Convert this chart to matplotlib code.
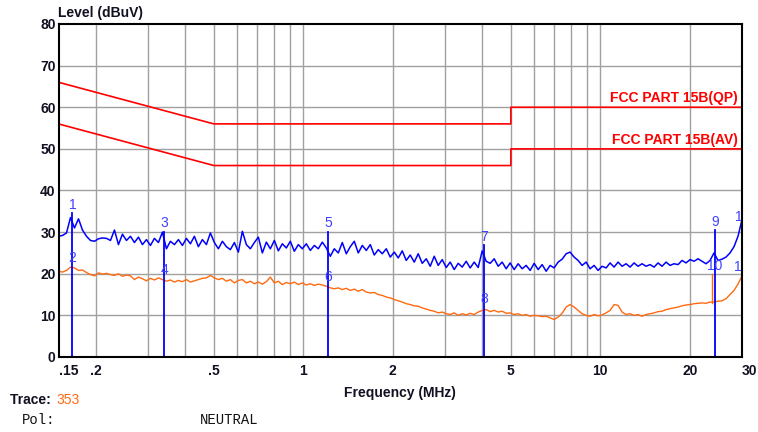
import numpy as np
import matplotlib
matplotlib.use("Agg")
import matplotlib.pyplot as plt
from matplotlib.ticker import FixedLocator, NullLocator, NullFormatter
import matplotlib.transforms as mtransforms

# ---------------- data ----------------
blue_trace = [
    29.0, 29.2, 29.8, 33.5, 31.0, 33.2, 30.5, 29.0, 28.0, 27.8, 28.4, 28.6, 28.5, 28.0,
    30.5, 27.0, 29.5, 28.0, 29.0, 27.5, 28.8, 27.0, 28.2, 26.8, 28.5, 27.5, 30.0, 26.0,
    27.8, 27.0, 28.2, 26.8, 28.5, 27.2, 29.0,
    26.5, 28.2, 27.0, 29.8, 27.5, 26.0, 27.8, 26.5, 25.8, 27.5, 25.2, 30.2, 27.0, 26.0,
    27.5, 28.8, 25.0, 27.6, 26.0, 28.0, 25.5, 27.2, 26.2, 27.8, 25.4, 27.0, 26.0, 27.2,
    25.6, 26.8, 26.0, 27.6, 26.2, 24.2, 26.0,
    25.0, 27.5, 24.8, 26.5, 27.8, 25.0, 26.8, 25.6, 27.0, 24.5, 25.8, 24.8, 26.0, 24.0,
    25.2, 23.8, 25.5, 23.2, 24.5, 22.8, 24.8, 22.5, 23.6, 21.8, 24.2, 22.0, 23.4, 21.5,
    22.8, 21.0, 22.5, 21.6, 23.0, 21.4,
    22.8, 21.5, 25.5, 23.0, 22.5, 23.6, 21.8, 22.8, 21.2, 22.6, 21.0, 22.4, 21.2, 22.0,
    20.8, 22.5, 21.0, 22.2, 20.6, 22.0, 21.4, 22.8, 23.5, 24.8, 25.2, 24.0, 23.2, 22.0,
    22.8, 21.2, 22.0, 20.8, 21.8, 21.4,
    22.6, 21.6, 22.8, 21.8, 22.4, 21.6, 22.6, 21.8, 22.4, 21.8, 22.2, 21.6, 22.6, 21.8,
    22.8, 22.0, 22.4, 22.2, 23.2, 22.6, 23.4, 23.0, 23.6, 23.0, 22.4, 23.2, 25.0, 23.2,
    23.5, 24.0, 25.0, 26.5, 29.0, 33.0,
]

orange_trace = [
    20.6, 20.4, 20.8, 21.6, 21.4, 20.8, 20.9, 20.3, 19.8, 19.5, 20.2, 19.9, 20.1, 19.8,
    19.6, 20.0, 19.4, 19.7, 19.5, 18.6, 19.2, 18.8, 18.3, 18.9, 18.5, 19.0, 18.6, 18.2,
    18.5, 18.0, 18.4, 18.1, 18.6, 18.0, 18.3,
    18.6, 18.9, 19.0, 19.6, 19.0, 18.6, 18.9, 18.2, 18.6, 17.8, 18.4, 18.6, 17.8, 18.2,
    17.6, 18.0, 17.5, 18.1, 19.2, 17.8, 18.2, 17.4, 17.9, 17.6, 18.0, 17.4, 17.8, 17.3,
    17.6, 17.2, 17.5, 17.3, 17.0, 16.6, 16.4,
    16.6, 16.2, 16.5, 16.0, 16.3, 15.8, 16.2, 15.6, 15.4, 15.5, 15.0, 14.8, 14.4, 14.2,
    13.8, 13.5, 13.2, 12.8, 12.6, 12.3, 12.2, 11.8, 11.5, 11.2, 11.0, 10.6, 10.8, 10.4,
    10.2, 10.6, 10.0, 10.4, 10.1, 10.5,
    10.2, 10.8, 11.2, 11.4, 10.9, 11.2, 10.8, 11.0, 10.5, 10.6, 10.2, 10.4, 10.0, 10.2,
    9.8, 10.0, 9.9, 9.7, 9.8, 9.4, 9.0, 9.6, 10.5, 12.0, 12.6, 12.0, 11.2, 10.4,
    10.0, 9.8, 10.2, 9.9, 10.1, 10.6,
    11.2, 12.6, 12.4, 10.8, 10.2, 10.4, 10.0, 10.2, 9.8, 10.2, 10.4, 10.6, 10.9, 11.0,
    11.4, 11.6, 11.8, 12.0, 12.3, 12.5, 12.6, 12.8, 12.9, 13.0, 12.9, 13.2, 13.2, 13.4,
    13.5, 14.0, 15.0, 16.0, 17.5, 19.5,
]

# limit lines (frequency MHz, level dBuV)
qp_limit_f = [0.15, 0.5, 5.0, 5.0, 30.0]
qp_limit_v = [66.0, 56.0, 56.0, 60.0, 60.0]
av_limit_f = [0.15, 0.5, 5.0, 5.0, 30.0]
av_limit_v = [56.0, 46.0, 46.0, 50.0, 50.0]

# markers
marker_freqs = [0.167, 0.34, 1.21, 4.07, 24.3, 29.96]
marker_peak_levels = [34.5, 30.0, 30.0, 26.8, 30.4, 31.6]   # odd markers 1,3,5,7,9,11
marker_avg_levels = [21.8, 18.8, 17.2, 11.8, 19.8, 19.5]    # even markers 2,4,6,8,10,12
marker_peak_labels = ["1", "3", "5", "7", "9", "11"]
marker_avg_labels = ["2", "4", "6", "8", "10", "12"]

# orange spike near marker 10
spike_freq = 23.7
spike_range = [13.0, 20.0]

x_ticks = [0.15, 0.2, 0.5, 1, 2, 5, 10, 20, 30]
x_tick_labels = [".15", ".2", ".5", "1", "2", "5", "10", "20", "30"]
y_ticks = [0, 10, 20, 30, 40, 50, 60, 70, 80]
grid_freqs = [0.2, 0.3, 0.4, 0.5, 0.6, 0.7, 0.8, 0.9, 1, 2, 3, 4, 5, 6, 7, 8, 9, 10, 20, 30]

# ---------------- figure ----------------
plt.rcParams['font.family'] = ['Liberation Sans', 'DejaVu Sans']
W, H = 758, 432
TXT = '#111122'
fig = plt.figure(figsize=(W / 100, H / 100), dpi=100)
fig.patch.set_facecolor('white')
ax = fig.add_axes([58.5 / W, 1 - 357 / H, (742 - 58.5) / W, (357 - 24) / H])
ax.set_xscale('log')
ax.set_xlim(0.15, 30)
ax.set_ylim(0, 80)

# grid
for gf in grid_freqs:
    ax.axvline(gf, color='#a0a0a0', lw=1.0, zorder=1)
for yv in y_ticks[1:-1]:
    ax.axhline(yv, color='#a0a0a0', lw=1.0, zorder=1)

# traces
fb = np.geomspace(0.15, 30, len(blue_trace))
fo = np.geomspace(0.15, 30, len(orange_trace))
ax.plot(fb, blue_trace, color='#0000ff', lw=1.1, zorder=3)
ax.plot(fo, orange_trace, color='#ff6a10', lw=1.0, zorder=3)
ax.plot([spike_freq, spike_freq], spike_range, color='#ff6a10', lw=1.0, zorder=3)

# limits
ax.plot(qp_limit_f, qp_limit_v, color='#ff0000', lw=1.2, zorder=3)
ax.plot(av_limit_f, av_limit_v, color='#ff0000', lw=1.2, zorder=3)
tr = mtransforms.blended_transform_factory(ax.transAxes, ax.transData)
ax.text(0.994, 60.5, "FCC PART 15B(QP)", transform=tr, ha='right', va='bottom',
        color='#ff0000', fontsize=10, fontweight='bold', zorder=4)
ax.text(0.994, 50.5, "FCC PART 15B(AV)", transform=tr, ha='right', va='bottom',
        color='#ff0000', fontsize=10, fontweight='bold', zorder=4)

# markers
for f, pk, av, lp, la in zip(marker_freqs, marker_peak_levels, marker_avg_levels,
                             marker_peak_labels, marker_avg_labels):
    ax.plot([f, f], [0, pk], color='#0000ff', lw=1.3, zorder=4)
    ax.text(f, pk + 0.4, lp, ha='center', va='bottom', color='#4040ff',
            fontsize=10, zorder=5, clip_on=True)
    ax.text(f, av + 0.4, la, ha='center', va='bottom', color='#4040ff',
            fontsize=10, zorder=5, clip_on=True)

# axes styling
for s in ax.spines.values():
    s.set_color('#000000')
    s.set_linewidth(1.5)
    s.set_zorder(6)
ax.xaxis.set_major_locator(FixedLocator(x_ticks))
ax.xaxis.set_minor_locator(NullLocator())
ax.xaxis.set_minor_formatter(NullFormatter())
ax.set_xticklabels(x_tick_labels)
ax.set_yticks(y_ticks)
ax.tick_params(axis='x', length=0, labelsize=10, colors=TXT, pad=5)
ax.tick_params(axis='y', length=0, labelsize=10, colors=TXT, pad=2)
xlbls = ax.get_xticklabels()
xlbls[0].set_horizontalalignment('left')
xlbls[-1].set_horizontalalignment('left')
for lbl in xlbls + ax.get_yticklabels():
    lbl.set_fontweight('bold')
ax.set_xlabel("Frequency (MHz)", fontsize=10, fontweight='bold', color=TXT, labelpad=6)

fig.text(58 / W, 1 - 13 / H, "Level (dBuV)", ha='left', va='center', fontsize=10,
         fontweight='bold', color=TXT)
fig.text(10 / W, 1 - 400 / H, "Trace: ", ha='left', va='center', fontsize=10,
         fontweight='bold', color=TXT)
fig.text(56 / W, 1 - 400 / H, "353", ha='left', va='center', fontsize=10,
         color='#ff6a10')
fig.text(22 / W, 1 - 420 / H, "Pol:", ha='left', va='center', fontsize=10,
         family='Liberation Mono', color='#111111')
fig.text(200 / W, 1 - 420 / H, "NEUTRAL", ha='left', va='center', fontsize=10,
         family='Liberation Mono', color='#111111')

fig.savefig("out.png", dpi=100)
